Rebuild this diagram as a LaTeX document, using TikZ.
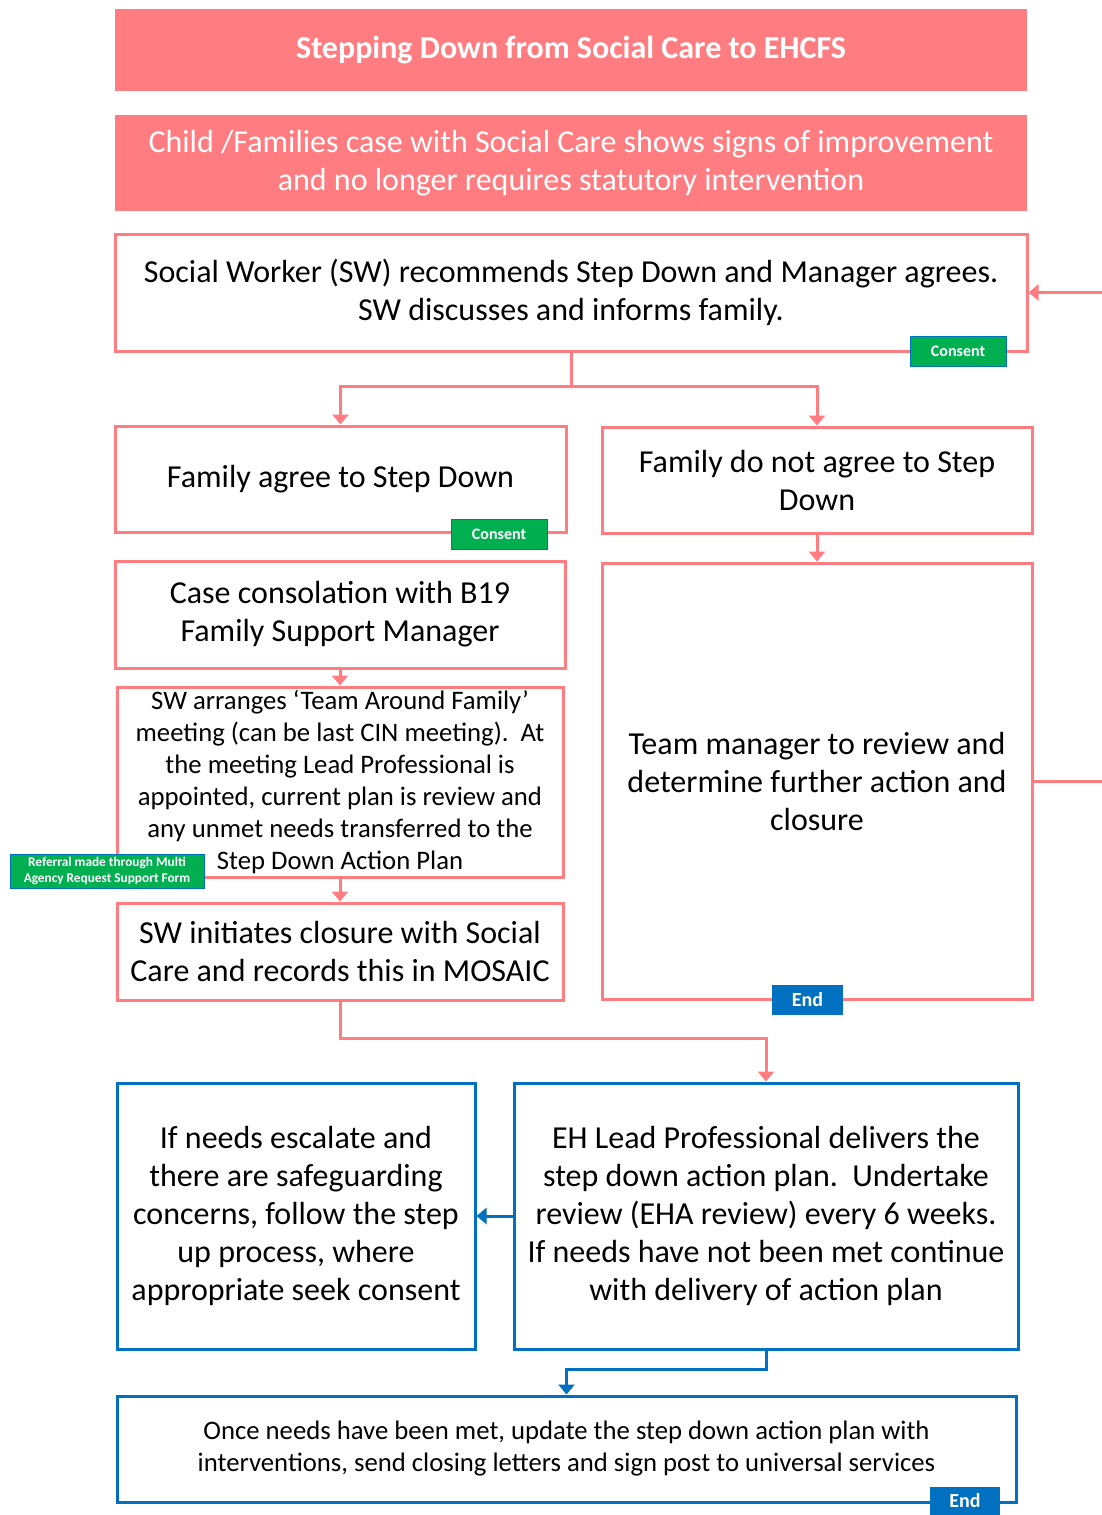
\documentclass[tikz,border=0pt]{standalone}
\usepackage{fontspec}
\setmainfont{Carlito}
\usetikzlibrary{arrows.meta}
\definecolor{salmon}{HTML}{FF7C80}
\definecolor{okgreen}{HTML}{00B050}
\definecolor{ehblue}{HTML}{0070C0}
\newcommand{\bigtext}{\fontsize{32}{38}\selectfont}
\newcommand{\smalltext}{\fontsize{26.7}{32}\selectfont}
\begin{document}
\begin{tikzpicture}[x=1pt,y=-1pt,
 >={Triangle[width=16pt,length=10pt]},
 redbox/.style={draw=salmon, line width=3pt, fill=white, align=center, inner sep=0pt},
 bluebox/.style={draw=ehblue, line width=3pt, fill=white, align=center, inner sep=0pt},
 headbox/.style={fill=salmon, text=white, align=center, inner sep=0pt},
 tag/.style={fill=okgreen, draw=ehblue, line width=0.6pt, text=white, align=center, inner sep=0pt},
 endtag/.style={fill=ehblue, text=white, font=\bfseries\fontsize{20}{22}\selectfont, inner sep=0pt},
 redline/.style={draw=salmon, line width=3pt},
 blueline/.style={draw=ehblue, line width=3pt}]
 \useasboundingbox (0,0) rectangle (1102,1515);
 \node[headbox, minimum width=912, minimum height=82, font=\bfseries\bigtext] (title) at (571,50) {Stepping Down from Social Care to EHCFS};
 \node[headbox, minimum width=912, minimum height=96, font=\bigtext] (improve) at (571,163) {Child /Families case with Social Care shows signs of improvement\\and no longer requires statutory intervention};
 \node[redbox, minimum width=912, minimum height=117, font=\bigtext] (recommend) at (571,292.5) {Social Worker (SW) recommends Step Down and Manager agrees.\\SW discusses and informs family.};
 \node[redbox, minimum width=451, minimum height=106, font=\bigtext] (agree) at (340.5,479) {Family agree to Step Down};
 \node[redbox, minimum width=430, minimum height=106, font=\bigtext] (disagree) at (817,480) {Family do not agree to Step\\Down};
 \node[redbox, minimum width=430, minimum height=436, font=\bigtext] (review) at (817,781) {Team manager to review and\\determine further action and\\closure};
 \node[redbox, minimum width=450, minimum height=107, font=\bigtext] (consult) at (340,614.5) {Case consolation with B19\\Family Support Manager};
 \node[redbox, minimum width=446, minimum height=190, font=\smalltext] (taf) at (340,782) {SW arranges ‘Team Around Family’\\meeting (can be last CIN meeting).\ \ At\\the meeting Lead Professional is\\appointed, current plan is review and\\any unmet needs transferred to the\\Step Down Action Plan};
 \node[redbox, minimum width=446, minimum height=97, font=\bigtext] (closure) at (340,951.5) {SW initiates closure with Social\\Care and records this in MOSAIC};
 \node[bluebox, minimum width=358, minimum height=266, font=\bigtext] (escalate) at (296,1216) {If needs escalate and\\there are safeguarding\\concerns, follow the step\\up process, where\\appropriate seek consent};
 \node[bluebox, minimum width=504, minimum height=266, font=\bigtext] (deliver) at (766,1216) {EH Lead Professional delivers the\\step down action plan.\ \ Undertake\\review (EHA review) every 6 weeks.\\If needs have not been met continue\\with delivery of action plan};
 \node[bluebox, minimum width=899, minimum height=106, font=\smalltext] (met) at (566.5,1449) {Once needs have been met, update the step down action plan with\\interventions, send closing letters and sign post to universal services};

 \draw[redline, ->] (recommend.south) -- ++(0,34) -| (agree.north);
 \draw[redline, ->] (recommend.south) -- ++(0,34) -| (disagree.north);
 \draw[redline, ->] (disagree.south) -- (review.north);
 \draw[redline, ->] (review.east) -- ++(76,0) |- (recommend.east);
 \draw[redline, ->] (consult.south) -- (taf.north);
 \draw[redline, ->] (taf.south) -- (closure.north);
 \draw[redline, ->] (closure.south) -- ++(0,37) -| (deliver.north);
 \draw[blueline, ->] (deliver.west) -- (escalate.east);
 \draw[blueline, ->] (deliver.south) -- ++(0,19) -| (met.north);

 \node[tag, minimum width=96, minimum height=30, font=\bfseries\fontsize{16}{18}\selectfont] (consent1) at (958,351) {Consent};
 \node[tag, minimum width=96, minimum height=30, font=\bfseries\fontsize{16}{18}\selectfont] (consent2) at (499,534) {Consent};
 \node[tag, minimum width=194, minimum height=34, font=\bfseries\fontsize{13.3}{16}\selectfont] (referral) at (107,871) {Referral made through Multi\\Agency Request Support Form};
 \node[endtag, minimum width=71, minimum height=30] (end1) at (807.5,1000) {End};
 \node[endtag, minimum width=70, minimum height=28] (end2) at (965,1501) {End};
\end{tikzpicture}
\end{document}
